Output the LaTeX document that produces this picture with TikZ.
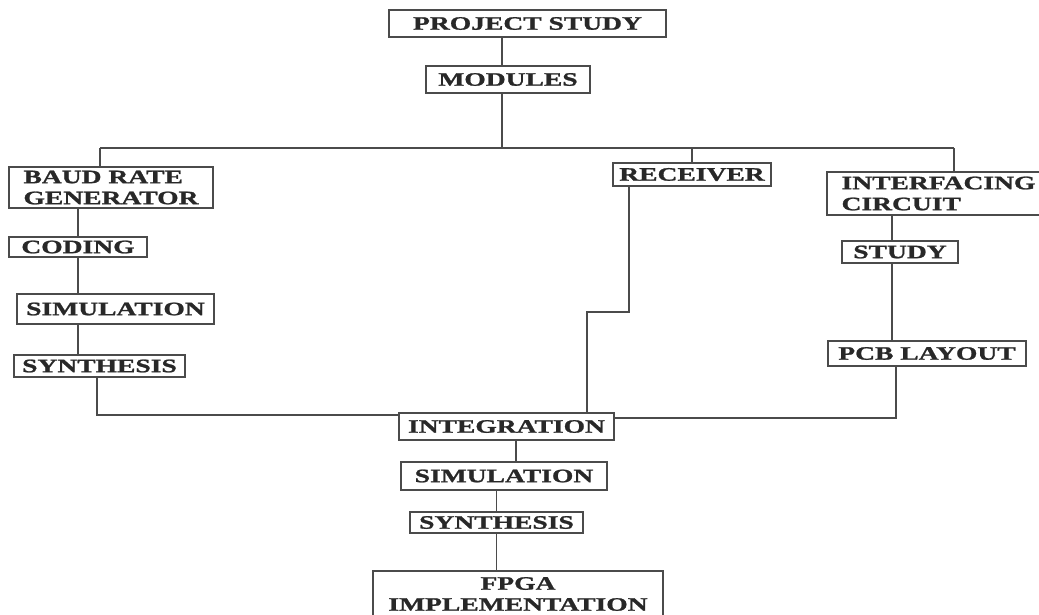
\documentclass[tikz,border=0pt]{standalone}
\usepackage{fontspec}
\setmainfont{Liberation Serif}[FakeStretch=1.45, BoldFeatures={FakeBold=1.2}]
\usetikzlibrary{positioning}
\definecolor{boxgray}{RGB}{75,75,75}
\definecolor{txtgray}{RGB}{40,40,40}
\tikzstyle{block} = [rectangle, draw=boxgray, line width=1.9pt, text=txtgray, inner sep=0pt, align=left, font=\fontsize{19}{21}\selectfont\bfseries]
\tikzstyle{link} = [draw=boxgray, line width=1.9pt]

\begin{document}
\begin{tikzpicture}[x=1pt, y=-1pt]
	\clip (0,0) rectangle (1039,614);
	\fill[white] (0,0) rectangle (1039,614);
	\node (proj) [block, minimum width=277pt, minimum height=27pt] at (527.5,23.5) {PROJECT STUDY};
	\node (mod) [block, minimum width=164pt, minimum height=27pt] at (508,79.5) {MODULES};
	% left branch
	\node (baud) [block, minimum width=204pt, minimum height=41pt] at (111,187.5) {BAUD RATE\\GENERATOR};
	\node (cod) [block, minimum width=138pt, minimum height=20pt] at (78,247) {CODING};
	\node (sim1) [block, minimum width=197pt, minimum height=30pt] at (115.5,309) {SIMULATION};
	\node (syn1) [block, minimum width=171pt, minimum height=22pt] at (99.5,366) {SYNTHESIS};
	% middle and right branches
	\node (recv) [block, minimum width=158pt, minimum height=23pt] at (692,174.5) {RECEIVER};
	\node (intf) [block, minimum width=223pt, minimum height=43pt] at (938.5,193.5) {INTERFACING\\CIRCUIT};
	\node (study) [block, minimum width=116pt, minimum height=22pt] at (900,252) {STUDY};
	\node (pcb) [block, minimum width=198pt, minimum height=25pt] at (927,353.5) {PCB LAYOUT};
	% bottom column
	\node (integ) [block, minimum width=215pt, minimum height=27pt] at (506.5,426.5) {INTEGRATION};
	\node (sim2) [block, minimum width=206pt, minimum height=28pt] at (504,476) {SIMULATION};
	\node (syn2) [block, minimum width=173pt, minimum height=21pt] at (496.5,522.5) {SYNTHESIS};
	\node (fpga) [block, align=center, minimum width=290pt, minimum height=46pt] at (518,594) {FPGA\\IMPLEMENTATION};

	\coordinate (busL) at (100,148);
	\coordinate (busM) at (502,148);
	\coordinate (busR) at (954,148);
	\coordinate (lbend) at (97,415);
	\coordinate (rtop) at (629,312);
	\coordinate (rlow) at (587,312);
	\coordinate (icol) at (892,300);
	\coordinate (pbend) at (896,418);
	\coordinate (ccol) at (516,450);

	\draw [link] (proj.south -| busM) -- (mod.north -| busM);
	\draw [link] (mod.south -| busM) -- (busM);
	\draw [link] (busL) -- (busR);
	\draw [link] (busL) -- (baud.north -| busL);
	\draw [link] (recv.north |- busM) -- (recv.north);
	\draw [link] (busR) -- (intf.north -| busR);
	\draw [link] (baud.south -| cod.north) -- (cod.north);
	\draw [link] (cod.south) -- (sim1.north -| cod.south);
	\draw [link] (sim1.south -| cod.south) -- (syn1.north -| cod.south);
	\draw [link] (syn1.south -| lbend) -- (lbend) -- (lbend -| integ.west);
	\draw [link] (recv.south -| rtop) -- (rtop) -- (rlow) -- (integ.north -| rlow);
	\draw [link] (intf.south -| icol) -- (study.north -| icol);
	\draw [link] (study.south -| icol) -- (pcb.north -| icol);
	\draw [link] (pcb.south -| pbend) -- (pbend) -- (pbend -| integ.east);
	\draw [link] (integ.south -| ccol) -- (sim2.north -| ccol);
	\draw [link] (sim2.south -| syn2.north) -- (syn2.north);
	\draw [link] (syn2.south) -- (fpga.north -| syn2.south);
\end{tikzpicture}
\end{document}
